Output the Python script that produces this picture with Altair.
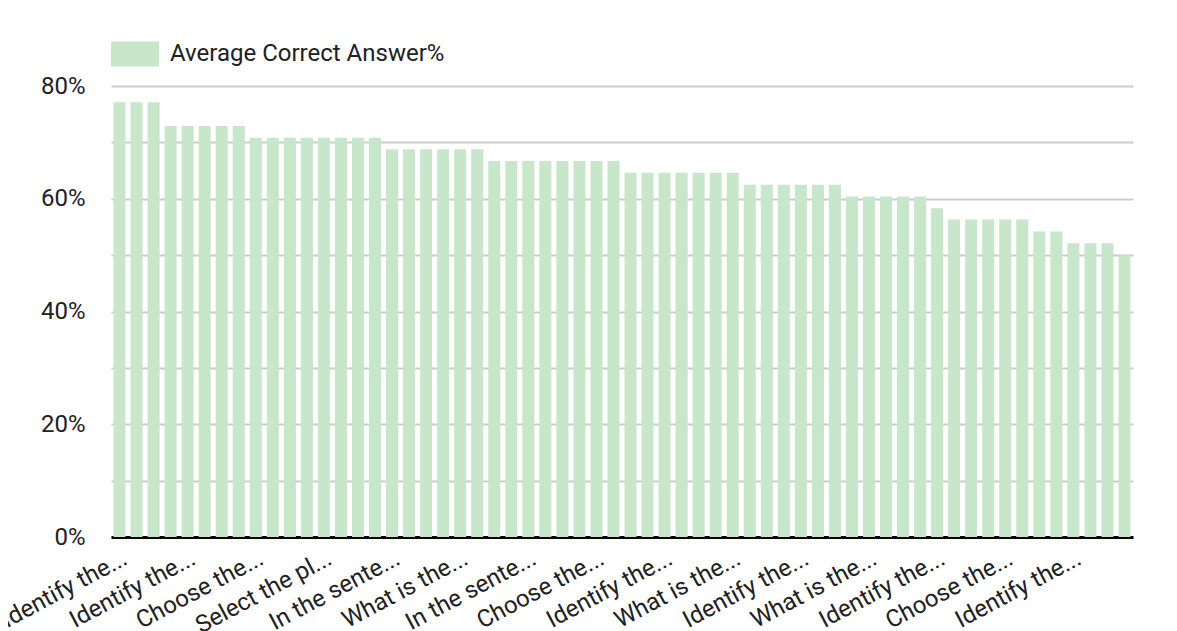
import json
import altair as alt
import pandas as pd

# ---- data ----
series_name = "Average Correct Answer%"

values = [
    77.1, 77.1, 77.1,
    72.9, 72.9, 72.9, 72.9, 72.9,
    70.8, 70.8, 70.8, 70.8, 70.8, 70.8, 70.8, 70.8,
    68.8, 68.8, 68.8, 68.8, 68.8, 68.8,
    66.7, 66.7, 66.7, 66.7, 66.7, 66.7, 66.7, 66.7,
    64.6, 64.6, 64.6, 64.6, 64.6, 64.6, 64.6,
    62.5, 62.5, 62.5, 62.5, 62.5, 62.5,
    60.4, 60.4, 60.4, 60.4, 60.4,
    58.3,
    56.3, 56.3, 56.3, 56.3, 56.3,
    54.2, 54.2,
    52.1, 52.1, 52.1,
    50.0,
]

# the axis labels every 4th question (questions 1, 5, 9, ... 57)
tick_labels = [
    "Identify the...", "Identify the...", "Choose the...", "Select the pl...",
    "In the sente...", "What is the...", "In the sente...", "Choose the...",
    "Identify the...", "What is the...", "Identify the...", "What is the...",
    "Identify the...", "Choose the...", "Identify the...",
]
tick_positions = [0, 4, 8, 12, 16, 20, 24, 28, 32, 36, 40, 44, 48, 52, 56]

y_ticks = [0, 10, 20, 30, 40, 50, 60, 70, 80]

df = pd.DataFrame({
    "idx": list(range(len(values))),
    "value": values,
    "series": [series_name] * len(values),
})

FONT = "Roboto"
TEXT = "#212121"

label_expr = (
    json.dumps(tick_labels)
    + "[indexof(" + json.dumps(tick_positions) + ", datum.value)]"
)

bars = (
    alt.Chart(df)
    .transform_calculate(lo="datum.idx - 0.353", hi="datum.idx + 0.353")
    .mark_bar(color="#c8e6c9")
    .encode(
        x=alt.X(
            "lo:Q",
            scale=alt.Scale(domain=[-0.5, len(values) - 0.5], nice=False, zero=False),
            axis=alt.Axis(
                title=None,
                values=tick_positions,
                labelExpr=label_expr,
                labelAngle=-28,
                labelAlign="right",
                labelBaseline="top",
                labelPadding=9,
                labelOverlap=False,
                labelBound=False,
                labelFlush=False,
                labelFont=FONT,
                labelFontSize=24,
                labelColor=TEXT,
                labelLimit=400,
                ticks=False,
                tickSize=0,
                grid=False,
                domain=True,
                domainColor="#000000",
                domainWidth=3,
            ),
        ),
        x2="hi:Q",
        y=alt.Y(
            "value:Q",
            scale=alt.Scale(domain=[0, 80], nice=False),
            axis=alt.Axis(
                title=None,
                values=y_ticks,
                labelExpr="datum.value % 20 == 0 ? datum.value + '%' : ''",
                labelFont=FONT,
                labelFontSize=24,
                labelColor=TEXT,
                labelPadding=26,
                ticks=False,
                domain=False,
                grid=True,
                gridColor="#cccccc",
                gridWidth=2,
            ),
        ),
        y2=alt.datum(0),
        color=alt.Color(
            "series:N",
            scale=alt.Scale(range=["#c8e6c9"]),
            legend=alt.Legend(
                title=None,
                orient="none",
                legendX=0,
                legendY=-56,
                symbolType="M-1,-0.52L1,-0.52L1,0.52L-1,0.52Z",
                symbolSize=2304,
                symbolStrokeWidth=0,
                symbolOpacity=1,
                labelFont=FONT,
                labelFontSize=24,
                labelColor=TEXT,
                labelOffset=11,
                labelLimit=600,
                padding=0,
            ),
        ),
    )
)

chart = (
    bars.properties(
        width=1022,
        height=451,
        autosize="none",
        padding={"left": 103, "top": 78, "right": 36, "bottom": 103},
        background="#ffffff",
    )
    .configure_view(strokeWidth=0)
)

chart.save("out.html", embed_options={"renderer": "svg", "actions": False})
